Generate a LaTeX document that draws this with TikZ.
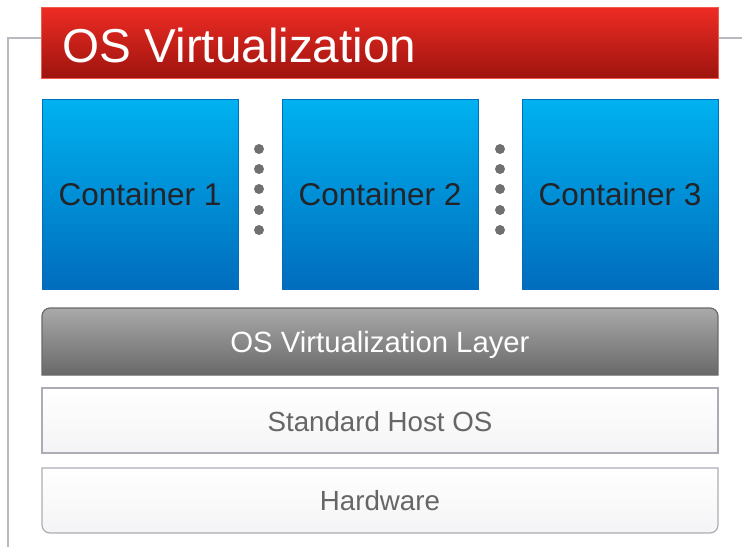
\documentclass[tikz,border=0pt]{standalone}
\usepackage{fontspec}
\setmainfont{Liberation Sans}
\usetikzlibrary{positioning}

\definecolor{framegray}{RGB}{185,185,192}
\definecolor{titletop}{RGB}{238,44,36}
\definecolor{titlebot}{RGB}{158,20,14}
\definecolor{titleedge}{RGB}{242,90,80}
\definecolor{conttop}{RGB}{0,178,240}
\definecolor{contbot}{RGB}{0,108,188}
\definecolor{contedge}{RGB}{0,110,190}
\definecolor{contxt}{RGB}{35,35,40}
\definecolor{layertop}{RGB}{170,170,170}
\definecolor{layerbot}{RGB}{104,104,104}
\definecolor{layeredge}{RGB}{105,105,108}
\definecolor{boxedge}{RGB}{172,172,180}
\definecolor{boxbot}{RGB}{244,244,246}
\definecolor{boxtxt}{RGB}{102,102,102}
\definecolor{dotgray}{RGB}{112,112,112}

\begin{document}
\begin{tikzpicture}[x=1pt,y=-1pt,
    cont/.style={draw=contedge, line width=1pt, top color=conttop, bottom color=contbot,
      minimum width=196pt, minimum height=190pt, inner sep=0pt,
      font=\fontsize{31.5}{38}\selectfont, text=contxt},
    flat/.style={draw=boxedge, line width=1.2pt, top color=white, bottom color=boxbot},
    label/.style={font=\fontsize{27.7}{33}\selectfont, text=boxtxt}]
    \useasboundingbox (0,0) rectangle (742,547);

    % outer frame
    \draw[framegray, line width=1.6pt] (8,547) |- (742,38);

    % title bar
    \node[draw=titleedge, line width=1pt, top color=titletop, bottom color=titlebot,
          minimum width=677pt, minimum height=71pt, inner sep=0pt] (title) at (380,42.5) {};
    \node[anchor=base west, text=white, font=\fontsize{47.6}{56}\selectfont] (titletext) at (59,62) {OS Virtualization};

    % containers
    \node[cont] (c1) at (140,194.5) {Container 1};
    \node[cont, right=43pt of c1] (c2) {Container 2};
    \node[cont, right=43pt of c2] (c3) {Container 3};

    % dots between containers
    \foreach \x in {259,500}
      \foreach \y in {149,169,189,210,230}
        \fill[dotgray] (\x,\y) circle (5pt);

    % virtualization layer
    \shade[draw=layeredge, line width=1.2pt, top color=layertop, bottom color=layerbot]
      (42,375) [rounded corners=8pt] -- (42,308) -- (718,308) [sharp corners] -- (718,375) -- cycle;
    \node[font=\fontsize{29.3}{35}\selectfont, text=white] (layer) at (380,345) {OS Virtualization Layer};

    % host os
    \node[flat, minimum width=676pt, minimum height=65pt, inner sep=0pt] (host) at (380,420.5) {};
    \node[label] (hosttext) at (380,421.5) {Standard Host OS};

    % hardware
    \shade[flat] (42,468) [rounded corners=8pt] -- (42,533) -- (718,533) [sharp corners] -- (718,468) -- cycle;
    \node[label] (hw) at (380,501) {Hardware};
\end{tikzpicture}
\end{document}
